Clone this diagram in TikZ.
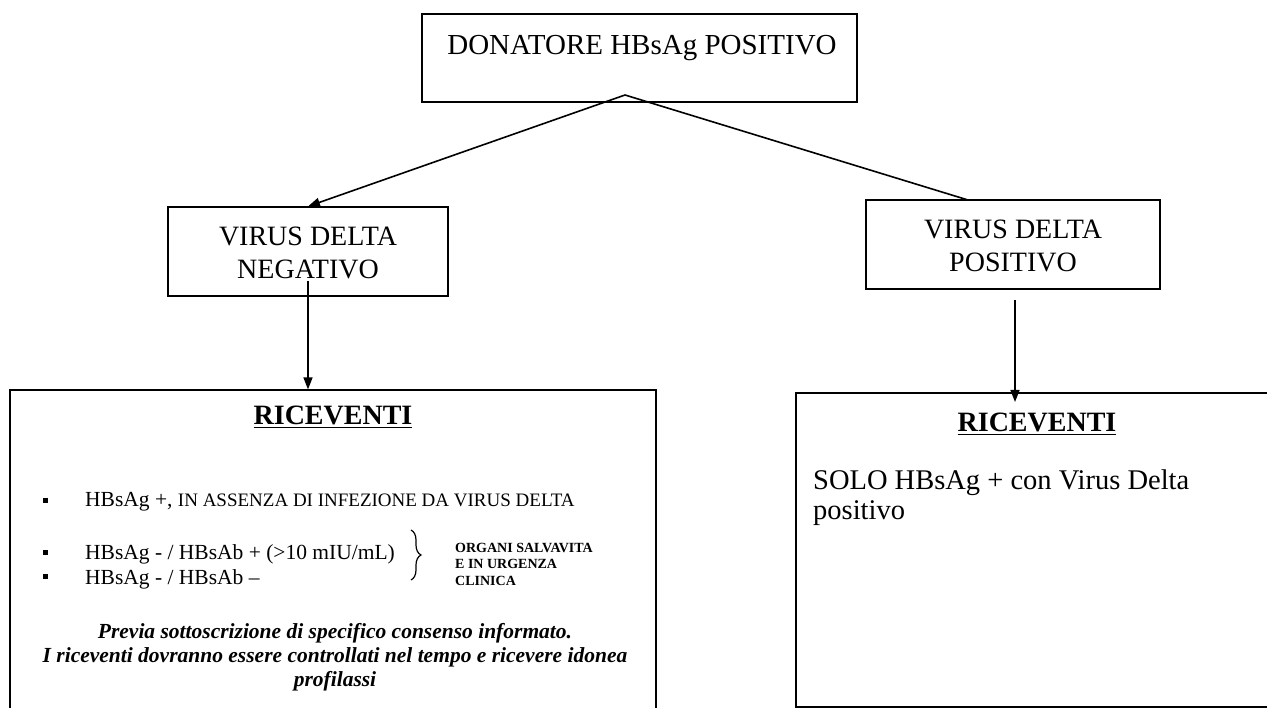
\documentclass[tikz,border=0pt]{standalone}
\usepackage{fontspec}
\setmainfont{Liberation Serif}
\usetikzlibrary{arrows.meta,decorations.pathreplacing}
\begin{document}
\begin{tikzpicture}[x=1pt,y=-1pt,
  box/.style={draw,line width=1.2pt,inner sep=0pt},
  conn/.style={line width=1.6pt},
  tip/.style={-{Triangle[length=12pt,width=9pt]}},
  big/.style={font=\fontsize{28}{33}\selectfont,inner sep=0pt},
  bul/.style={fill,inner sep=0pt,minimum size=5pt},
  item/.style={anchor=base west,inner sep=0pt,font=\fontsize{21.5}{24}\selectfont}]
\useasboundingbox (0,0) rectangle (1267,708);
\clip (0,0) rectangle (1267,708);
\fill[white] (0,0) rectangle (1267,708);

% boxes
\node[box,minimum width=435pt,minimum height=88pt] (don) at (639.5,58) {};
\node[box,minimum width=280pt,minimum height=89pt] (neg) at (308,251.5) {};
\node[box,minimum width=294pt,minimum height=89pt] (pos) at (1013,244.5) {};
\node[box,minimum width=646pt,minimum height=330pt] (recl) at (333,555) {};
\node[box,minimum width=490pt,minimum height=314pt] (recr) at (1041,550) {};

% texts
\node[big,anchor=base,font=\fontsize{29}{33}\selectfont] (dont) at (642,55) {DONATORE HBsAg POSITIVO};
\node[big,align=center] (negt) at (308,253) {VIRUS DELTA\\NEGATIVO};
\node[big,align=center] (post) at (1013,246) {VIRUS DELTA\\POSITIVO};

\node[big,anchor=base,font=\fontsize{28}{33}\selectfont\bfseries] (rl) at (333,425) {\underline{RICEVENTI}};
\node[big,anchor=base,font=\fontsize{28}{33}\selectfont\bfseries] (rr) at (1037,432) {\underline{RICEVENTI}};

\node[bul] (b1) at (45,500) {};
\node[bul] (b2) at (45,552) {};
\node[bul] (b3) at (45,576) {};
\node[item] (i1) at (85,507) {HBsAg +, {\fontsize{19}{22}\selectfont IN ASSENZA DI INFEZIONE DA VIRUS DELTA}};
\node[item] (i2) at (85,559) {HBsAg - / HBsAb + (>10 mIU/mL)};
\node[item] (i3) at (85,584) {HBsAg - / HBsAb --};
\coordinate (bs) at (411,530);
\coordinate (be) at (411,580);
\draw[decorate,decoration={brace,amplitude=10pt},line width=1.2pt] (bs) -- (be);
\node[anchor=north west,inner sep=0pt,align=left,font=\fontsize{14}{16.5}\selectfont\bfseries] (org) at (455,543) {ORGANI SALVAVITA\\E IN URGENZA\\CLINICA};

\node[inner sep=0pt,align=center,font=\fontsize{21.5}{24}\selectfont\bfseries\itshape] (note) at (335,657) {Previa sottoscrizione di specifico consenso informato.\\I riceventi dovranno essere controllati nel tempo e ricevere idonea\\profilassi};

\node[big,anchor=north west,align=left,font=\fontsize{28.5}{30}\selectfont] (solo) at (813,470) {SOLO HBsAg + con Virus Delta\\positivo};

% connectors
\coordinate (apex) at (625,95);
\coordinate (pin) at (968,200);
\draw[conn,tip] (apex) -- (neg.north);
\draw[conn] (apex) -- (pin);
\coordinate (a1) at (308,281);
\draw[conn,tip] (a1) -- (a1 |- recl.north);
\coordinate (a2) at (1015,300);
\coordinate (a2e) at (1015,402);
\draw[conn,tip] (a2) -- (a2e);
\end{tikzpicture}
\end{document}
